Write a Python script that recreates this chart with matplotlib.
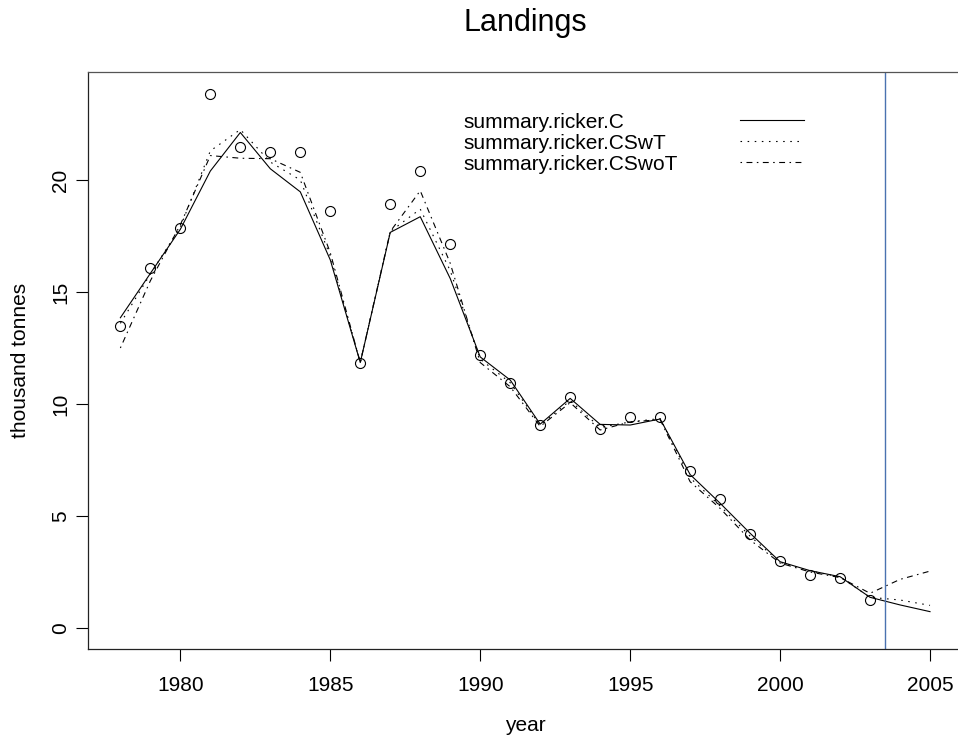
import matplotlib
matplotlib.use("Agg")
import matplotlib.pyplot as plt
from matplotlib.lines import Line2D

plt.rcParams['font.family'] = ['Liberation Sans', 'DejaVu Sans']

years = list(range(1978, 2006))
obs_years = list(range(1978, 2004))
observed = [13.5, 16.09, 17.87, 23.84, 21.48, 21.27, 21.24, 18.6, 11.82, 18.94,
            20.39, 17.15, 12.19, 10.92, 9.08, 10.31, 8.9, 9.43, 9.43, 7.02,
            5.74, 4.2, 3.0, 2.37, 2.25, 1.25]
ricker_C = [13.85, 15.83, 17.8, 20.4, 22.12, 20.5, 19.47, 16.43, 11.85, 17.66,
            18.36, 15.6, 12.1, 11.07, 9.1, 10.25, 9.09, 9.06, 9.33, 6.85,
            5.57, 4.23, 2.96, 2.56, 2.29, 1.37, 1.03, 0.73]
ricker_CSwT = [13.6, 15.8, 17.9, 21.3, 22.25, 20.8, 20.0, 16.6, 11.85, 17.7,
               18.7, 15.95, 12.0, 10.95, 9.05, 10.15, 8.95, 9.2, 9.35, 6.7,
               5.45, 4.1, 2.93, 2.55, 2.28, 1.37, 1.25, 1.01]
ricker_CSwoT = [12.5, 15.5, 18.0, 21.09, 20.97, 20.95, 20.34, 16.75, 11.85, 17.7,
                19.52, 16.28, 11.85, 10.77, 9.0, 10.06, 8.84, 9.2, 9.3, 6.53,
                5.34, 3.93, 2.9, 2.5, 2.25, 1.55, 2.17, 2.54]
series_names = ["summary.ricker.C", "summary.ricker.CSwT", "summary.ricker.CSwoT"]
cutoff_year = 2003.5
x_ticks = [1980, 1985, 1990, 1995, 2000, 2005]
y_ticks = [0, 5, 10, 15, 20]

W, H = 958, 741
fig = plt.figure(figsize=(W / 100, H / 100), dpi=100)
left, right, top, bottom = 88, 962.4, 72, 649
aw, ah = right - left, bottom - top
ax = fig.add_axes([left / W, 1 - bottom / H, aw / W, ah / H])

FS = 15
lw = 0.8
styles = ['-', (0, (1.4, 5.0)), (0, (1.4, 4.0, 5.3, 4.0))]
series = [ricker_C, ricker_CSwT, ricker_CSwoT]
for vals, ls in zip(series, styles):
    ax.plot(years, vals, color='black', linestyle=ls, linewidth=lw)
ax.plot(obs_years, observed, linestyle='none', marker='o', markersize=7.2,
        markerfacecolor='none', markeredgecolor='black', markeredgewidth=0.8)
ax.axvline(cutoff_year, color='#4a72b0', linewidth=1.0)

ax.set_xlim(1976.92, 2006.08)
ax.set_ylim(-0.9375, 24.82)
ax.set_xticks(x_ticks)
ax.set_yticks(y_ticks)
ax.tick_params(direction='out', length=8.6, width=0.8, labelsize=FS)
ax.tick_params(axis='x', pad=10.5)
ax.tick_params(axis='y', pad=4.3)
for lab in ax.get_yticklabels():
    lab.set_rotation(90)
    lab.set_va('center')
for s in ax.spines.values():
    s.set_linewidth(0.9)
    s.set_color('#222222')
ax.spines['top'].set_color('#555555')

ax.set_xlabel('year', fontsize=FS)
ax.xaxis.set_label_coords((525.2 - left) / aw, -(716 - bottom) / ah)
ax.set_ylabel('thousand tonnes', fontsize=FS)
ax.yaxis.set_label_coords((30 - left) / aw, 0.5)
fig.text(525.2 / W, 1 - 31 / H, 'Landings', ha='center', va='baseline', fontsize=22)

# legend (R-style: text left, line samples right)
tx = (463.6 - left) / aw
lx0 = (740.4 - left) / aw
lx1 = (803.6 - left) / aw
for i, (name, ls) in enumerate(zip(series_names, styles)):
    line_y = 120.3 + 20.9 * i
    yy = 1 - (line_y - top) / ah
    yb = 1 - (line_y + 8.0 - top) / ah
    ax.text(tx, yb, name, transform=ax.transAxes, ha='left', va='baseline', fontsize=FS)
    ax.add_line(Line2D([lx0, lx1], [yy, yy], transform=ax.transAxes,
                       color='black', linestyle=ls, linewidth=lw))

fig.savefig('out.png', dpi=100)
